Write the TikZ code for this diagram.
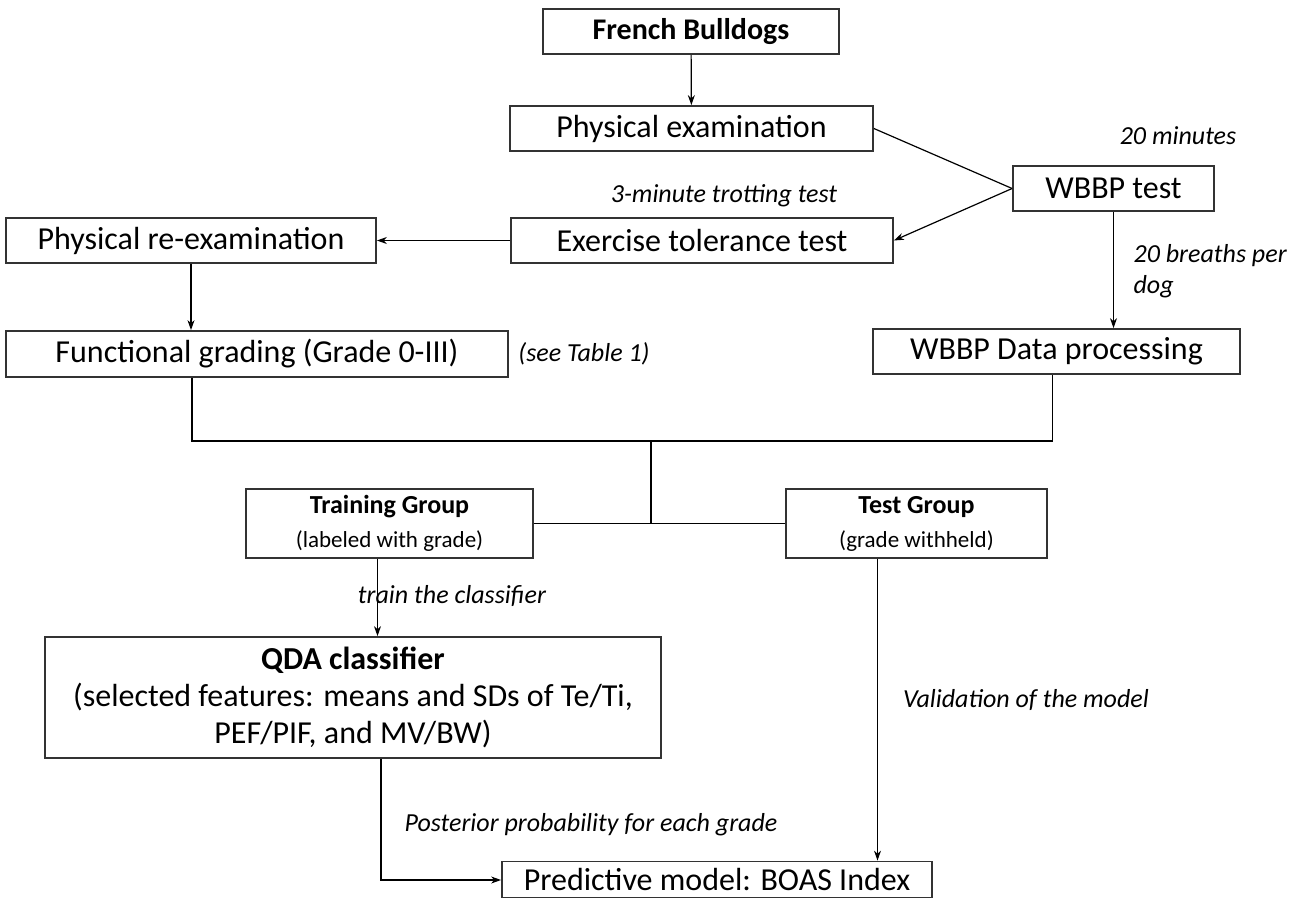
\documentclass[tikz,border=0pt]{standalone}
\usepackage{fontspec}
\setmainfont{Carlito}
\usetikzlibrary{arrows.meta}

\begin{document}
\begin{tikzpicture}[x=1pt,y=-1pt,
  box/.style={draw=black!80, line width=1.8pt, inner sep=0pt, align=center, font=\fontsize{32}{37}\selectfont},
  note/.style={font=\fontsize{26}{31}\selectfont\itshape, inner sep=0pt},
  >={Stealth[length=10pt,width=7pt]}, line width=1.2pt]
\useasboundingbox (0,0) rectangle (1296,899);
% boxes
\node[box, minimum width=296pt, minimum height=45pt] (bull) at (691,31.5) {\fontsize{30}{36}\selectfont\bfseries French Bulldogs};
\node[box, minimum width=363pt, minimum height=45pt] (phys) at (691.5,128.5) {Physical examination};
\node[box, minimum width=201pt, minimum height=45pt] (wbbp) at (1113.5,188.5) {WBBP test};
\node[box, minimum width=382pt, minimum height=45pt] (exer) at (702,240.5) {Exercise tolerance test};
\node[box, minimum width=370pt, minimum height=45pt] (reexam) at (191,240.5) {Physical re-examination};
\node[box, minimum width=502pt, minimum height=46pt] (func) at (257,354) {Functional grading (Grade 0-III)};
\node[box, minimum width=367pt, minimum height=45pt] (data) at (1056.5,351.5) {WBBP Data processing};
\node[box, minimum width=287pt, minimum height=69pt] (train) at (389.5,523.5) {\fontsize{26}{31}\selectfont\bfseries Training Group\\[-3pt]\fontsize{23}{28}\selectfont (labeled with grade)};
\node[box, minimum width=261pt, minimum height=69pt] (test) at (916.5,523.5) {\fontsize{26}{31}\selectfont\bfseries Test Group\\[-3pt]\fontsize{23}{28}\selectfont (grade withheld)};
\node[box, minimum width=616pt, minimum height=121pt] (qda) at (353,697.5) {\textbf{QDA classifier}\\(selected features: means and SDs of Te/Ti,\\PEF/PIF, and MV/BW)};
\node[box, minimum width=430pt, minimum height=36pt] (pred) at (717,879.5) {Predictive model: BOAS Index};
% labels
\node[note] (lmin) at (1178,136) {20 minutes};
\node[note] (ltrot) at (724,196) {3-minute trotting test};
\node[note, anchor=north west, align=left] (lbreath) at (1133,244) {20 breaths per\\dog};
\node[note] (ltable) at (584,354) {(see Table 1)};
\node[note] (ltrain) at (452,596) {train the classifier};
\node[note] (lvalid) at (1026,700) {Validation of the model};
\node[note] (lpost) at (591,825) {Posterior probability for each grade};
% connectors
\coordinate (join) at (651,441);
\coordinate (turn) at (381,880);
\draw[->] (bull) -- (phys);
\draw (phys.east) -- (wbbp.west);
\draw[->] (wbbp.west) -- (exer.east);
\draw[->] (exer) -- (reexam);
\draw[->] (reexam.south) -- (reexam.south |- func.north);
\draw[->] (wbbp.south) -- (wbbp.south |- data.north);
\draw ([xshift=-65pt]func.south) -- ([xshift=-65pt]func.south |- join) -- ([xshift=-4pt]data.south |- join) -- ([xshift=-4pt]data.south);
\draw (join) -- (join |- train.east);
\draw (train) -- (test);
\draw[->] ([xshift=-12pt]train.south) -- ([xshift=-12pt]train.south |- qda.north);
\draw[->] ([xshift=-39pt]test.south) -- ([xshift=-39pt]test.south |- pred.north);
\draw[->] (turn |- qda.south) -- (turn) -- (turn -| pred.west);
\end{tikzpicture}
\end{document}
